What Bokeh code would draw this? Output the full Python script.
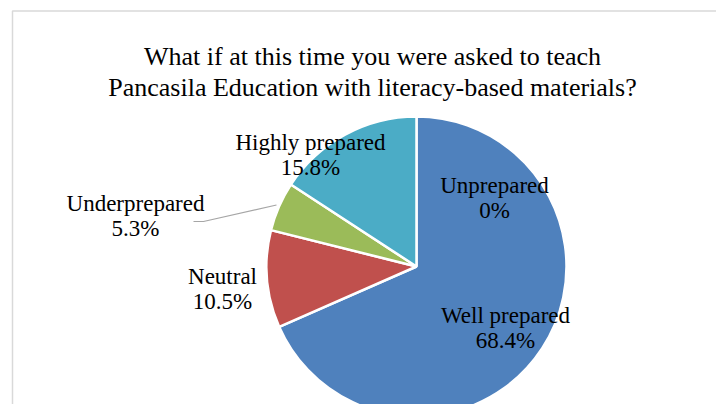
import math
from bokeh.plotting import figure
from bokeh.models import Range1d, ColumnDataSource
from bokeh.core.properties import value
from bokeh.embed import file_html
from bokeh.resources import INLINE

# ---- data ----
categories = ["Unprepared", "Well prepared", "Neutral", "Underprepared", "Highly prepared"]
percents = [0.0, 68.4, 10.5, 5.3, 15.8]
colors = ["#7F7F7F", "#4F81BD", "#C0504D", "#9BBB59", "#4BACC6"]
title_lines = ["What if at this time you were asked to teach",
               "Pancasila Education with literacy-based materials?"]

# ---- layout (picture pixel coordinates) ----
W, H = 716, 404
def px(x):
    return x
def py(y):
    return H - y

cx, cy, R = 416, 266, 150
# label anchor (center x, first-line baseline y) per category
label_pos = {
    "Unprepared": (494, 185),
    "Well prepared": (505, 315),
    "Neutral": (222, 276),
    "Underprepared": (135, 203),
    "Highly prepared": (310, 142),
}
line_gap = 25
font = "Liberation Serif"

p = figure(width=W, height=H, output_backend="svg", toolbar_location=None,
           x_range=Range1d(0, W), y_range=Range1d(0, H), min_border=0)
p.axis.visible = False
p.grid.visible = False
p.outline_line_color = None
p.background_fill_color = "white"
p.border_fill_color = "white"

# chart area border
p.line([px(12), px(12), px(740)], [py(430), py(10.5), py(10.5)],
       line_color="#D9D9D9", line_width=1.5)

# wedges
total = sum(percents)
starts, ends = [], []
cum = 0.0
for v in percents:
    starts.append(math.pi / 2 - 2 * math.pi * cum / total)
    cum += v
    ends.append(math.pi / 2 - 2 * math.pi * cum / total)
src = ColumnDataSource(dict(x=[px(cx)] * len(categories), y=[py(cy)] * len(categories),
                            start=starts, end=ends, color=colors))
p.wedge(x="x", y="y", radius=R, start_angle="start", end_angle="end",
        direction="clock", fill_color="color", line_color="white",
        line_width=2.5, source=src)

# leader line for Underprepared
p.line([px(193), px(203), px(276)], [py(221), py(221), py(204.5)],
       line_color="#A6A6A6", line_width=1.2)

# data labels
lx, ly, lt = [], [], []
for c, v in zip(categories, percents):
    x0, y0 = label_pos[c]
    lx += [px(x0), px(x0)]
    ly += [py(y0), py(y0 + line_gap)]
    lt += [c, f"{v:g}%"]
p.text(x=lx, y=ly, text=lt, text_font=value(font), text_font_size="23px",
       text_align="center", text_baseline="alphabetic", text_color="#000000")

# title
p.text(x=[px(372), px(372)], y=[py(56), py(87)], text=title_lines,
       text_font=value(font), text_font_size="26px", text_align="center",
       text_baseline="alphabetic", text_color="#000000")

open("out.html", "w").write(file_html(p, INLINE))
